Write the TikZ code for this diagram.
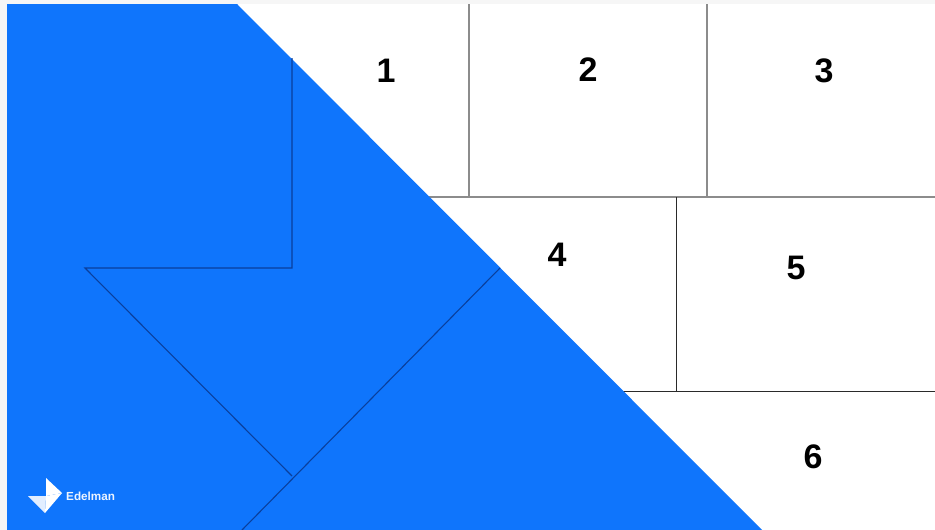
\documentclass[tikz,border=0pt]{standalone}
\usepackage{fontspec}
\setmainfont{Liberation Sans}
\definecolor{edblue}{HTML}{0F75FC}
\definecolor{edline}{HTML}{0A3F9C}
\definecolor{gridgray}{HTML}{8C8C8C}
\definecolor{griddark}{HTML}{2A2A2A}
\definecolor{pagegray}{HTML}{F6F6F6}
\tikzset{
  num/.style={font=\bfseries\fontsize{34}{36}\selectfont,text=black,inner sep=0pt},
  grayrule/.style={draw=gridgray,line width=2pt},
  darkrule/.style={draw=griddark,line width=0.9pt},
  blueline/.style={draw=edline,line width=1.1pt}
}
\begin{document}
\begin{tikzpicture}[x=1pt,y=-1pt]
\useasboundingbox (0,0) rectangle (935,530);
\fill[pagegray] (0,0) rectangle (935,530);
\fill[white] (7,4) rectangle (935,530);
% grid
\draw[grayrule] (469,4) -- (469,196);
\draw[grayrule] (707,4) -- (707,196);
\draw[grayrule] (425,196.5) -- (935,196.5);
\draw[darkrule] (676,197) -- (676,391);
\draw[darkrule] (620,391) -- (935,391);
% blue area
\fill[edblue] (7,4) -- (237,4) -- (762,530) -- (7,530) -- cycle;
\draw[blueline,line join=miter] (292,58) -- (292,268) -- (85,268) -- (292,476);
\draw[blueline] (500,268) -- (242,530);
% numbers
\node[num] (n1) at (386,71) {1};
\node[num] (n2) at (588,70) {2};
\node[num] (n3) at (824,71) {3};
\node[num] (n4) at (557,255) {4};
\node[num] (n5) at (796,268) {5};
\node[num] (n6) at (813,457) {6};
% logo
\fill[white] (46,478) -- (62,493) -- (46,496) -- cycle;
\fill[white!88!edblue] (28,496) -- (46,496) -- (45,513) -- cycle;
\fill[white] (46,496) -- (62,493) -- (45,513) -- cycle;
\node[font=\bfseries\fontsize{11.7}{13}\selectfont,text=white!92!edblue,inner sep=0pt,anchor=west] (brand) at (66,496) {Edelman};
\end{tikzpicture}
\end{document}
